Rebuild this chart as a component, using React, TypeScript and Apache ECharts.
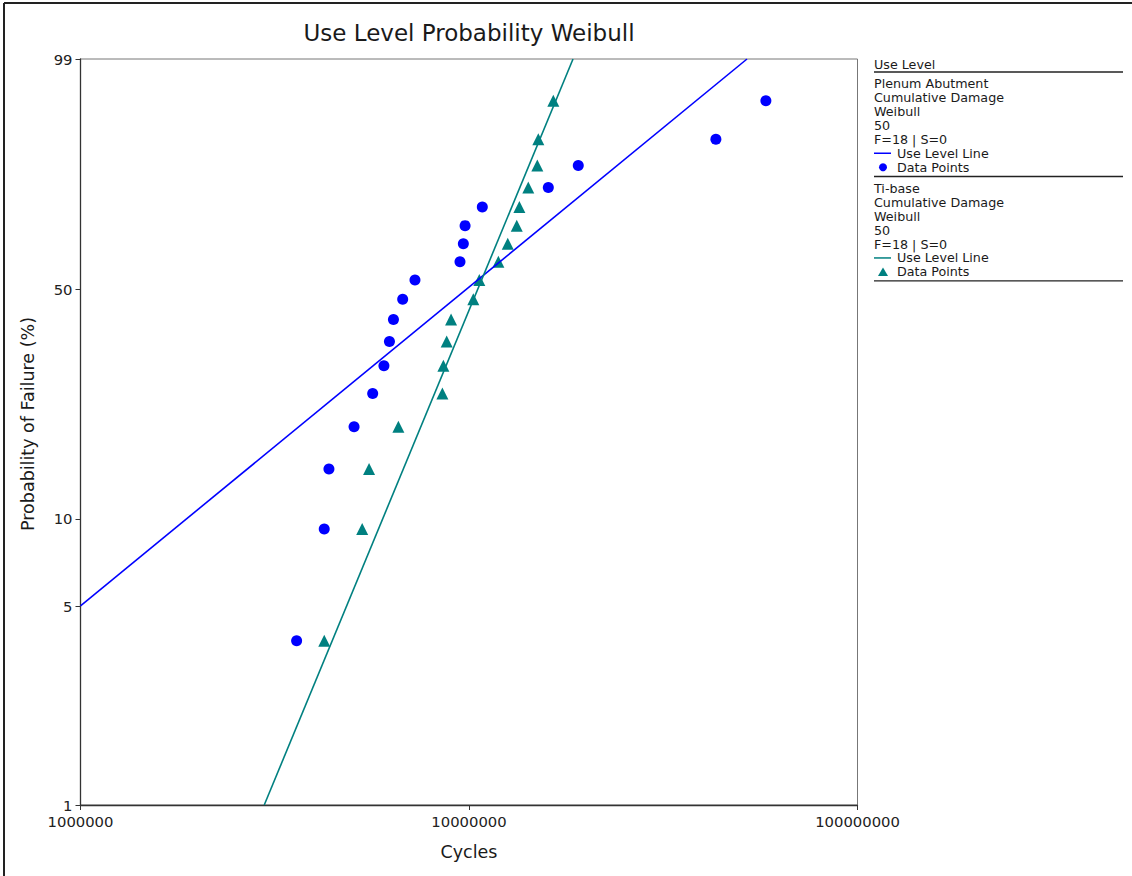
import React, { useEffect, useRef } from "react";
import * as echarts from "echarts";

// ---- data ----
const PROB_TICKS = [1, 5, 10, 50, 99];
const X_MIN = 1000000;
const X_MAX = 100000000;
const UNRELIABILITY_PCT = [3.8, 9.24, 14.67, 20.11, 25.54, 30.98, 36.41, 41.85, 47.28, 52.72, 58.15, 63.59, 69.02, 74.46, 79.89, 85.33, 90.76, 96.2];
const PLENUM_CYCLES = [3.6e6, 4.24e6, 4.36e6, 5.06e6, 5.65e6, 6.04e6, 6.24e6, 6.39e6, 6.75e6, 7.26e6, 9.48e6, 9.67e6, 9.77e6, 1.082e7, 1.6e7, 1.911e7, 4.32e7, 5.81e7];
const TIBASE_CYCLES = [4.24e6, 5.31e6, 5.53e6, 6.58e6, 8.54e6, 8.59e6, 8.76e6, 8.99e6, 1.026e7, 1.063e7, 1.19e7, 1.258e7, 1.327e7, 1.348e7, 1.421e7, 1.499e7, 1.508e7, 1.648e7];
const PLENUM_BETA = 1.137;
const PLENUM_ETA = 1.356e7;
const TIBASE_BETA = 3.348;
const TIBASE_ETA = 1.174e7;

const TITLE = "Use Level Probability Weibull";
const X_NAME = "Cycles";
const Y_NAME = "Probability of Failure (%)";
const LEGEND_TITLE = "Use Level";
const PLENUM_LEGEND = ["Plenum Abutment", "Cumulative Damage", "Weibull", "50", "F=18 | S=0"];
const TIBASE_LEGEND = ["Ti-base", "Cumulative Damage", "Weibull", "50", "F=18 | S=0"];
const LINE_LABEL = "Use Level Line";
const POINTS_LABEL = "Data Points";

const BLUE = "#0000ff";
const TEAL = "#008080";
const FONT = "DejaVu Sans";

const wT = (pct: number) => Math.log(-Math.log(1 - pct / 100));
const T_MIN = wT(PROB_TICKS[0]);
const T_MAX = wT(PROB_TICKS[PROB_TICKS.length - 1]);

function fitLine(beta: number, eta: number) {
  const x0 = Math.max(X_MIN, eta * Math.exp(T_MIN / beta));
  const x1 = Math.min(X_MAX, eta * Math.exp(T_MAX / beta));
  return [x0, x1].map((x) => [x, beta * Math.log(x / eta)]);
}

function points(cycles: number[]) {
  return cycles.map((c, i) => [c, wT(UNRELIABILITY_PCT[i])]);
}

function legendGraphics() {
  const els: any[] = [];
  const lx = 874;
  const rx = 1123;
  const txt = (text: string, x: number, y: number) => ({
    type: "text",
    x,
    y,
    style: { text, fill: "#1a1a1a", font: `12.7px "${FONT}"`, textVerticalAlign: "middle" },
  });
  const rule = (y: number) => ({
    type: "line",
    shape: { x1: lx, y1: y, x2: rx, y2: y },
    style: { stroke: "#222", lineWidth: 1.3 },
  });
  els.push(txt(LEGEND_TITLE, lx, 64));
  els.push(rule(72));
  const block = (lines: string[], y0: number, color: string, tri: boolean) => {
    const step = 13.95;
    lines.forEach((l, i) => els.push(txt(l, lx, y0 + i * step)));
    const yl = y0 + lines.length * step;
    els.push({ type: "line", shape: { x1: lx, y1: yl, x2: 891, y2: yl }, style: { stroke: color, lineWidth: 1.5 } });
    els.push(txt(LINE_LABEL, 897, yl));
    const yp = yl + step;
    if (tri) {
      els.push({ type: "polygon", shape: { points: [[883, yp - 4.5], [878, yp + 4], [888, yp + 4]] }, style: { fill: color } });
    } else {
      els.push({ type: "circle", shape: { cx: 883, cy: yp, r: 4 }, style: { fill: color } });
    }
    els.push(txt(POINTS_LABEL, 897, yp));
    return yp;
  };
  const e1 = block(PLENUM_LEGEND, 83.5, BLUE, false);
  els.push(rule(e1 + 9.3));
  const e2 = block(TIBASE_LEGEND, 188.2, TEAL, true);
  els.push(rule(e2 + 9));
  // outer frame (top and left)
  els.push({ type: "line", shape: { x1: 4, y1: 3, x2: 1132, y2: 3 }, style: { stroke: "#222", lineWidth: 2 } });
  els.push({ type: "line", shape: { x1: 4, y1: 3, x2: 4, y2: 876 }, style: { stroke: "#222", lineWidth: 2 } });
  // title
  els.push({
    type: "text",
    x: 469,
    y: 33,
    style: { text: TITLE, fill: "#1a1a1a", font: `23px "${FONT}"`, textAlign: "center", textVerticalAlign: "middle" },
  });
  // y axis name
  els.push({
    type: "text",
    x: 28,
    y: 424,
    rotation: Math.PI / 2,
    style: { text: Y_NAME, fill: "#1a1a1a", font: `17.5px "${FONT}"`, textAlign: "center", textVerticalAlign: "middle" },
  });
  return els;
}

export default function App() {
  const ref = useRef<HTMLDivElement>(null);
  useEffect(() => {
    if (!ref.current) return;
    const chart = echarts.init(ref.current, null, { renderer: "svg" });
    const tickVals = PROB_TICKS.map(wT);
    chart.setOption({
      animation: false,
      backgroundColor: "#fff",
      textStyle: { fontFamily: FONT },
      grid: { left: 80.5, top: 59, width: 777, height: 746, show: true, borderColor: "#777", borderWidth: 1 },
      xAxis: {
        type: "log",
        logBase: 10,
        min: X_MIN,
        max: X_MAX,
        name: X_NAME,
        nameLocation: "middle",
        nameGap: 38,
        nameTextStyle: { fontSize: 17.5, color: "#1a1a1a", fontFamily: FONT },
        axisLine: { onZero: false, lineStyle: { color: "#333", width: 1.3 } },
        axisTick: { length: 5, lineStyle: { color: "#333" } },
        minorTick: { show: false },
        splitLine: { show: false },
        axisLabel: {
          fontSize: 14.8,
          lineHeight: 14,
          color: "#222",
          margin: 9,
          fontFamily: FONT,
          formatter: (v: number) => String(Math.round(v)),
        },
      },
      yAxis: {
        type: "value",
        min: T_MIN,
        max: T_MAX,
        axisLine: { show: true, onZero: false, lineStyle: { color: "#333", width: 1.3 } },
        axisTick: { show: true, length: 5, customValues: tickVals, lineStyle: { color: "#333" } },
        splitLine: { show: false },
        axisLabel: {
          customValues: tickVals,
          fontSize: 14.8,
          lineHeight: 12,
          color: "#222",
          margin: 8,
          fontFamily: FONT,
          formatter: (v: number) => String(Math.round((1 - Math.exp(-Math.exp(v))) * 100)),
        },
      },
      series: [
        {
          type: "scatter",
          data: points(PLENUM_CYCLES),
          symbol: "circle",
          symbolSize: 11,
          itemStyle: { color: BLUE, opacity: 1 },
        },
        {
          type: "scatter",
          data: points(TIBASE_CYCLES),
          symbol: "triangle",
          symbolSize: 12,
          itemStyle: { color: TEAL, opacity: 1 },
        },
        {
          type: "line",
          data: fitLine(PLENUM_BETA, PLENUM_ETA),
          showSymbol: false,
          clip: true,
          lineStyle: { color: BLUE, width: 1.6 },
        },
        {
          type: "line",
          data: fitLine(TIBASE_BETA, TIBASE_ETA),
          showSymbol: false,
          clip: true,
          lineStyle: { color: TEAL, width: 1.6 },
        },
      ],
      graphic: legendGraphics(),
    });
    return () => chart.dispose();
  }, []);
  return <div ref={ref} style={{ position: "absolute", left: 0, top: 0, width: 1132, height: 876 }} />;
}
